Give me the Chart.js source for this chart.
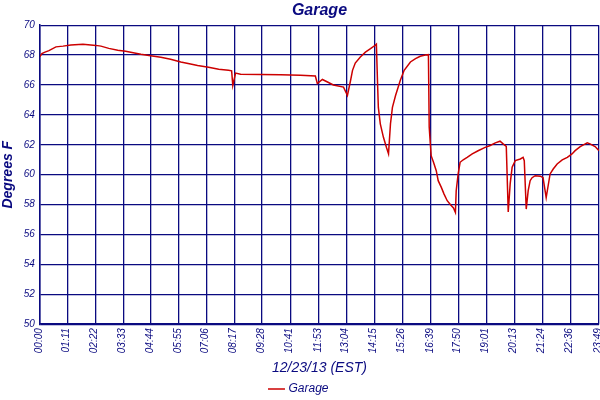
<!DOCTYPE html>
<html>
<head>
<meta charset="utf-8">
<script src="https://cdn.jsdelivr.net/npm/chart.js@4/dist/chart.umd.min.js"></script>
<style>
  html, body { margin: 0; padding: 0; background: #ffffff; }
  #wrap { width: 600px; height: 400px; }
</style>
</head>
<body>
<div id="wrap"><canvas id="c" width="600" height="400"></canvas></div>
<script>
// Time of reading in minutes after midnight
const minutes = [0,5,13,23,41,59,79,110,143,156,176,199,219,258,283,309,334,360,385,403,431,457,482,490,493,500,513,564,615,666,704,709,722,735,750,776,786,794,799,806,819,832,845,857,860,863,865,870,878,886,891,896,901,909,921,931,947,960,972,985,993,995,998,1000,1006,1013,1018,1026,1033,1041,1049,1057,1062,1064,1069,1074,1082,1092,1105,1120,1138,1151,1164,1176,1184,1192,1197,1202,1207,1215,1228,1235,1238,1243,1248,1253,1258,1266,1279,1286,1294,1299,1304,1312,1322,1335,1348,1360,1368,1381,1394,1399,1406,1419,1429];
// Garage temperature, degrees F
const garage = [67.9,68.1,68.2,68.3,68.55,68.6,68.68,68.72,68.65,68.6,68.45,68.32,68.25,68.05,67.95,67.85,67.72,67.54,67.4,67.3,67.18,67.05,66.98,66.95,65.97,66.8,66.72,66.7,66.68,66.65,66.6,66.1,66.37,66.2,66.0,65.86,65.3,66.3,66.98,67.47,67.87,68.2,68.43,68.66,68.73,66.1,64.5,63.4,62.5,61.8,61.4,63.4,64.5,65.3,66.3,66.98,67.54,67.76,67.92,68.0,68.03,63.2,62.0,61.27,60.83,60.27,59.6,59.15,58.7,58.26,58.0,57.77,57.47,58.93,60.05,60.83,61.0,61.16,61.39,61.6,61.83,61.95,62.13,62.24,62.06,61.9,57.5,59.4,60.5,60.94,61.05,61.16,60.94,57.7,58.93,59.6,59.8,59.93,59.9,59.8,58.47,59.26,60.05,60.38,60.72,60.99,61.16,61.39,61.61,61.88,62.06,62.13,62.06,61.88,61.61];
// X tick labels and their minute positions
const tickLabels = ["00:00","01:11","02:22","03:33","04:44","05:55","07:06","08:17","09:28","10:41","11:53","13:04","14:15","15:26","16:39","17:50","19:01","20:13","21:24","22:36","23:49"];
const tickMinutes = [0,71,142,213,284,355,426,497,568,641,713,784,855,926,999,1070,1141,1213,1284,1356,1429];

const navy = '#0a0a80';
const fam = '"Liberation Sans", Arial, sans-serif';

const points = minutes.map((m, i) => ({ x: m, y: garage[i] }));

new Chart(document.getElementById('c'), {
  type: 'line',
  data: {
    datasets: [{
      label: 'Garage',
      data: points,
      borderColor: '#cc0000',
      backgroundColor: '#cc0000',
      borderWidth: 1.5,
      pointRadius: 0,
      tension: 0,
      fill: false
    }]
  },
  options: {
    responsive: false,
    animation: false,
    devicePixelRatio: 1,
    layout: { padding: { left: 0, right: 1, top: 0, bottom: -5 } },
    plugins: {
      title: {
        display: true,
        fullSize: false,
        text: 'Garage',
        color: navy,
        font: { family: fam, size: 16, style: 'italic', weight: 'bold' },
        padding: { top: 1, bottom: 5 }
      },
      legend: {
        position: 'bottom',
        labels: {
          color: navy,
          usePointStyle: true,
          pointStyle: 'line',
          boxWidth: 12,
          font: { family: fam, size: 12, style: 'italic' },
          padding: 0
        }
      },
      tooltip: { enabled: false }
    },
    scales: {
      x: {
        type: 'linear',
        min: 0,
        max: 1429,
        afterBuildTicks: (axis) => { axis.ticks = tickMinutes.map(v => ({ value: v })); },
        afterFit: (axis) => { axis.paddingRight = 0; },
        ticks: {
          autoSkip: false,
          maxRotation: 90,
          minRotation: 90,
          labelOffset: -1,
          color: navy,
          font: { family: fam, size: 10, style: 'italic' },
          padding: 4,
          callback: function(value) {
            const i = tickMinutes.indexOf(value);
            return i >= 0 ? tickLabels[i] : '';
          }
        },
        grid: { color: navy, lineWidth: 1.3, drawTicks: false },
        border: { color: navy, width: 1.5 },
        title: {
          display: true,
          text: '12/23/13 (EST)',
          color: navy,
          font: { family: fam, size: 14, style: 'italic' },
          padding: { top: 3, bottom: 6 }
        }
      },
      y: {
        min: 50,
        max: 70,
        ticks: {
          stepSize: 2,
          color: navy,
          font: { family: fam, size: 10, style: 'italic' },
          padding: 5
        },
        grid: { color: navy, lineWidth: 1.3, drawTicks: false },
        border: { color: navy, width: 1.5 },
        title: {
          display: true,
          text: 'Degrees F',
          color: navy,
          font: { family: fam, size: 14, style: 'italic', weight: 'bold' },
          padding: { top: 0, bottom: 2 }
        }
      }
    }
  }
});
</script>
</body>
</html>
